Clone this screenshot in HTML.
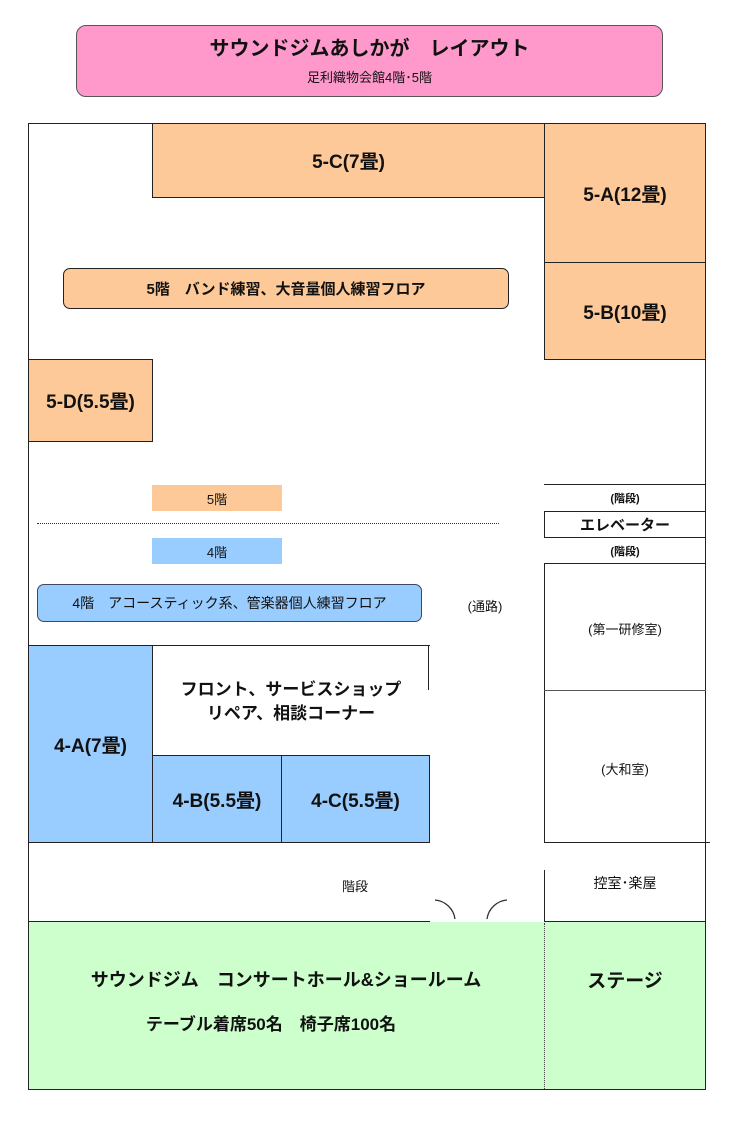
<!DOCTYPE html>
<html><head><meta charset="utf-8"><style>
body{margin:0;width:736px;height:1121px;background:#fff;position:relative;overflow:hidden;font-family:"Liberation Sans","Noto Sans CJK JP",sans-serif;color:#111}
div{position:absolute;box-sizing:border-box}
.b{border:1.5px solid #222}
.o{background:#fdc998}
.bl{background:#99ccff}
.c{display:flex;align-items:center;justify-content:center;text-align:center}
.big{font-size:19px;font-weight:bold}
.t{font-size:13px}
</style></head><body>
<div class="b" style="left:76px;top:25px;width:587px;height:72px;background:#ff99cc;border-radius:10px;border-color:#555"></div>
<div style="left:76px;top:32px;width:587px;text-align:center;font-size:20px;font-weight:bold">サウンドジムあしかが　レイアウト</div>
<div style="left:76px;top:67px;width:587px;text-align:center;font-size:13px">足利織物会館4階･5階</div>

<div class="b" style="left:28px;top:123px;width:678px;height:967px"></div>
<div class="b o c big" style="left:152px;top:123px;width:393px;height:75px">5-C(7畳)</div>
<div class="b o c big" style="left:544px;top:123px;width:162px;height:140px">5-A(12畳)</div>
<div class="b o c big" style="left:544px;top:262px;width:162px;height:98px">5-B(10畳)</div>
<div class="b o c" style="left:63px;top:268px;width:446px;height:41px;border-radius:7px;border-width:1px;font-size:15px;font-weight:bold">5階　バンド練習、大音量個人練習フロア</div>
<div class="b o c big" style="left:28px;top:359px;width:125px;height:83px">5-D(5.5畳)</div>

<div class="o c t" style="left:152px;top:485px;width:130px;height:26px">5階</div>
<div style="left:37px;top:523px;width:462px;border-top:1.5px dotted #333"></div>
<div class="bl c t" style="left:152px;top:538px;width:130px;height:26px">4階</div>

<div style="left:544px;top:484px;width:162px;border-top:1.5px solid #222"></div>
<div class="c" style="left:544px;top:488px;width:162px;height:20px;font-size:11px;font-weight:bold">(階段)</div>
<div class="b c" style="left:544px;top:511px;width:162px;height:27px;font-size:15px;font-weight:bold">エレベーター</div>
<div class="c" style="left:544px;top:541px;width:162px;height:20px;font-size:11px;font-weight:bold">(階段)</div>
<div class="b" style="left:544px;top:563px;width:162px;height:280px"></div>
<div style="left:544px;top:690px;width:162px;border-top:1px solid #555"></div>
<div class="c t" style="left:544px;top:618px;width:162px;height:20px">(第一研修室)</div>
<div class="c t" style="left:544px;top:758px;width:162px;height:20px">(大和室)</div>
<div class="c t" style="left:455px;top:595px;width:60px;height:20px">(通路)</div>

<div class="b bl c" style="left:37px;top:584px;width:385px;height:38px;border-radius:7px;border-width:1px;border-color:#446;font-size:14px">4階　アコースティック系、管楽器個人練習フロア</div>

<div style="left:152px;top:645px;width:278px;border-top:1.5px solid #222"></div>
<div style="left:428px;top:645px;height:45px;border-left:1.5px solid #222"></div>
<div class="c" style="left:152px;top:672px;width:278px;height:60px;font-size:17px;font-weight:bold;line-height:24px">フロント、サービスショップ<br>リペア、相談コーナー</div>
<div class="b bl c big" style="left:28px;top:645px;width:125px;height:198px">4-A(7畳)</div>
<div class="b bl c big" style="left:152px;top:755px;width:130px;height:88px">4-B(5.5畳)</div>
<div class="b bl c big" style="left:281px;top:755px;width:149px;height:88px">4-C(5.5畳)</div>

<div style="left:544px;top:842px;width:166px;border-top:1.5px solid #222"></div>
<div style="left:544px;top:870px;height:53px;border-left:1.5px solid #222"></div>
<div class="c t" style="left:325px;top:875px;width:60px;height:20px">階段</div>
<div class="c" style="left:544px;top:873px;width:162px;height:20px;font-size:14px">控室･楽屋</div>

<div style="left:28px;top:922px;width:678px;height:168px;background:#ccffcc;border:1.5px solid #222;border-top:none"></div>
<div style="left:28px;top:921px;width:402px;border-top:1.5px solid #222"></div>
<div style="left:544px;top:921px;width:162px;border-top:1.5px solid #222"></div>
<div style="left:544px;top:923px;height:166px;border-left:1px dotted #444"></div>
<svg style="position:absolute;left:425px;top:895px" width="90" height="30"><path d="M10 5 A22 22 0 0 1 30 24" fill="none" stroke="#333" stroke-width="1.3"/><path d="M82 5 A22 22 0 0 0 62 24" fill="none" stroke="#333" stroke-width="1.3"/></svg>
<div class="c" style="left:28px;top:965px;width:516px;height:28px;font-size:18px;font-weight:bold">サウンドジム　コンサートホール&amp;ショールーム</div>
<div class="c" style="left:28px;top:1008px;width:516px;height:28px;font-size:17px;font-weight:bold;padding-right:30px">テーブル着席50名　椅子席100名</div>
<div class="c" style="left:544px;top:965px;width:162px;height:28px;font-size:19px;font-weight:bold">ステージ</div>
</body></html>
